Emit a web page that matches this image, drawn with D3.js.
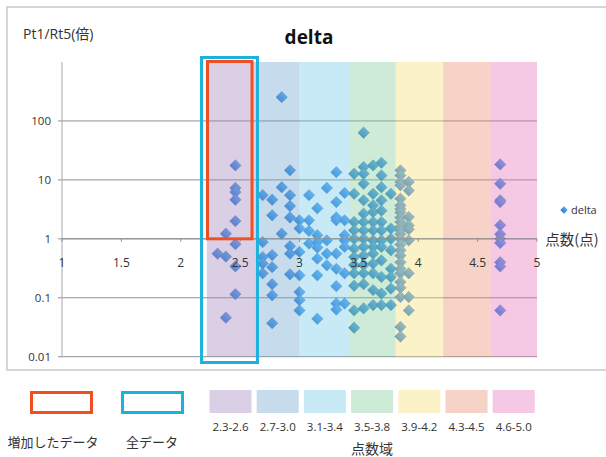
<!DOCTYPE html>
<html>
<head>
<meta charset="utf-8">
<script src="https://cdn.jsdelivr.net/npm/d3@7"></script>
<style>
  body { margin: 0; background: #fff; }
  text { font-family: "Open Sans", "Noto Sans CJK JP", sans-serif; fill: #333; }
  .jp { font-family: "Noto Sans CJK JP", sans-serif; }
</style>
</head>
<body>
<div id="chart"></div>
<script>
// score columns (x) and the delta values seen in each column (y, log scale)
var scoreCols = [2.31, 2.38, 2.46, 2.69, 2.77, 2.85, 2.92, 3.0, 3.08, 3.15, 3.23,
  3.31, 3.38, 3.46, 3.54, 3.62, 3.69, 3.77, 3.85, 3.92, 4.69];

var deltaCols = [
  [0.56],
  [1.22, 0.50, 0.046],
  [17.6, 7.3, 6.2, 4.6, 2.0, 0.81, 0.34, 0.115],
  [5.5, 0.88, 0.49, 0.38, 0.26],
  [4.6, 2.5, 0.53, 0.33, 0.17, 0.11, 0.037],
  [253, 7.5, 1.22],
  [14.5, 5.5, 3.6, 2.3, 0.75, 0.56, 0.25],
  [2.06, 1.5, 0.6, 0.24, 0.125, 0.091, 0.061],
  [5.5, 2.06, 1.36, 0.83],
  [3.3, 1.15, 0.88, 0.71, 0.46, 0.24, 0.044],
  [7.3, 0.94, 0.56, 0.355],
  [13.5, 4.2, 2.3, 2.06, 0.56, 0.31, 0.157, 0.08, 0.063],
  [6.0, 2.06, 1.15, 0.94, 0.73, 0.26, 0.08],
  [12.7, 5.8, 1.93, 1.39, 1.0, 0.68, 0.49, 0.36, 0.26, 0.16, 0.061, 0.031],
  [63, 16.5, 12.7, 8.6, 4.5, 2.67, 1.93, 1.39, 1.0, 0.73, 0.52, 0.36, 0.26, 0.17, 0.066],
  [17.6, 5.8, 3.7, 2.85, 1.93, 1.39, 0.94, 0.73, 0.56, 0.38, 0.26, 0.135, 0.075],
  [19.5, 11.9, 7.5, 4.5, 3.0, 1.93, 1.39, 0.94, 0.73, 0.43, 0.225, 0.118, 0.075],
  [5.8, 1.49, 1.0, 0.64, 0.31, 0.225, 0.143, 0.075],
  [14.5, 11.9, 9.2, 8.1, 4.8, 3.7, 3.2, 2.8, 2.3, 1.93, 1.6, 1.39, 1.2, 1.0, 0.8,
    0.64, 0.52, 0.4, 0.31, 0.26, 0.185, 0.148, 0.103, 0.032, 0.022],
  [9.2, 6.6, 2.34, 1.69, 1.45, 0.94, 0.26, 0.103, 0.061],
  [18.3, 8.6, 4.5, 4.2, 1.7, 1.2, 1.0, 0.85, 0.40, 0.34, 0.061]
];

// score ranges drawn as coloured bands
var bandEdges = [2.22, 2.65, 3.0, 3.42, 3.81, 4.21, 4.61, 5.0];
var bandLabels = ['2.3-2.6', '2.7-3.0', '3.1-3.4', '3.5-3.8', '3.9-4.2', '4.3-4.5', '4.6-5.0'];
var bandColors = ['#a287bb', '#70a7cf', '#75cae8', '#82cd98', '#f7de75', '#eb8e70', '#e675b9'];

var xTicks = [1, 1.5, 2, 2.5, 3, 3.5, 4, 4.5, 5];
var yTicks = [0.01, 0.1, 1, 10, 100];
var yTickLabels = ['0.01', '0.1', '1', '10', '100'];

var width = 606, height = 457;

var svg = d3.select('#chart').append('svg')
  .attr('width', width)
  .attr('height', height);

var defs = svg.append('defs');
var grad = defs.append('linearGradient')
  .attr('id', 'mk').attr('x1', 0).attr('y1', 0).attr('x2', 0).attr('y2', 1);
grad.append('stop').attr('offset', '0%').attr('stop-color', '#55a3f4');
grad.append('stop').attr('offset', '100%').attr('stop-color', '#2f7fd8');

// chart frame
svg.append('rect')
  .attr('x', 7).attr('y', 7).attr('width', 640).attr('height', 363)
  .attr('fill', 'none').attr('stroke', '#c9c9c9').attr('stroke-width', 1.5);

var x = d3.scaleLinear().domain([1, 5]).range([62, 537]);
var y = d3.scaleLog().domain([0.01, 1000]).range([356.7, 62]);

// gridlines
svg.append('g').selectAll('line').data(yTicks).enter().append('line')
  .attr('x1', 58).attr('x2', x(5))
  .attr('y1', function(d) { return y(d); })
  .attr('y2', function(d) { return y(d); })
  .attr('stroke', '#8f8f8f').attr('stroke-width', 1);

// y axis line
svg.append('line')
  .attr('x1', x(1)).attr('x2', x(1)).attr('y1', y(1000)).attr('y2', y(0.01))
  .attr('stroke', '#a8a8a8').attr('stroke-width', 1);

// points
var points = [];
scoreCols.forEach(function(s, i) {
  deltaCols[i].forEach(function(v) { points.push({ score: s, delta: v }); });
});

var diamond = d3.symbol().type(d3.symbolSquare).size(64);

svg.append('g').selectAll('path').data(points).enter().append('path')
  .attr('d', diamond)
  .attr('transform', function(d) {
    return 'translate(' + x(d.score) + ',' + y(d.delta) + ') rotate(45)';
  })
  .attr('fill', 'url(#mk)')
  .attr('stroke', '#3576c4').attr('stroke-width', 0.5);

// bands over the points
var bands = bandLabels.map(function(l, i) {
  return { label: l, x0: bandEdges[i], x1: bandEdges[i + 1], color: bandColors[i] };
});

svg.append('g').selectAll('rect').data(bands).enter().append('rect')
  .attr('x', function(d) { return x(d.x0); })
  .attr('width', function(d) { return x(d.x1) - x(d.x0); })
  .attr('y', y(1000))
  .attr('height', y(0.01) - y(1000))
  .attr('fill', function(d) { return d.color; })
  .attr('opacity', 0.4);

// x axis crossing at 1
svg.append('line')
  .attr('x1', x(1)).attr('x2', x(5)).attr('y1', y(1)).attr('y2', y(1))
  .attr('stroke', '#8f8f8f');

svg.append('g').selectAll('line').data(xTicks).enter().append('line')
  .attr('x1', function(d) { return x(d); })
  .attr('x2', function(d) { return x(d); })
  .attr('y1', y(1)).attr('y2', y(1) + 3)
  .attr('stroke', '#8f8f8f');

svg.append('g').selectAll('text').data(xTicks).enter().append('text')
  .attr('x', function(d) { return x(d); })
  .attr('y', y(1) + 28)
  .attr('text-anchor', 'middle')
  .style('font-size', '12px')
  .text(function(d) { return d; });

svg.append('g').selectAll('text').data(yTicks).enter().append('text')
  .attr('x', 51)
  .attr('y', function(d) { return y(d) + 4; })
  .attr('text-anchor', 'end')
  .style('font-size', '11.5px')
  .text(function(d, i) { return yTickLabels[i]; });

// highlight boxes
svg.append('rect')
  .attr('x', x(2.175)).attr('y', 57.5)
  .attr('width', x(2.646) - x(2.175)).attr('height', 305)
  .attr('fill', 'none').attr('stroke', '#1db2dd').attr('stroke-width', 3);

svg.append('rect')
  .attr('x', x(2.225)).attr('y', 61.5)
  .attr('width', x(2.6) - x(2.225)).attr('height', y(1) - 61.5)
  .attr('fill', 'none').attr('stroke', '#f04f24').attr('stroke-width', 3);

// titles
svg.append('text').attr('x', 309).attr('y', 44).attr('text-anchor', 'middle')
  .style('font-size', '19px').style('font-weight', 'bold').style('fill', '#111')
  .text('delta');

svg.append('text').attr('x', 23).attr('y', 39)
  .style('font-size', '14px')
  .text('Pt1/Rt5(倍)');

svg.append('text').attr('class', 'jp').attr('x', 572).attr('y', 245)
  .attr('text-anchor', 'middle')
  .style('font-size', '14.5px')
  .text('点数(点)');

// series legend
svg.append('path')
  .attr('d', d3.symbol().type(d3.symbolSquare).size(28))
  .attr('transform', 'translate(564,210) rotate(45)')
  .attr('fill', 'url(#mk)');
svg.append('text').attr('x', 571).attr('y', 214)
  .style('font-size', '11px')
  .text('delta');

// bottom legend
svg.append('rect').attr('x', 31.5).attr('y', 392.5).attr('width', 60).attr('height', 20)
  .attr('fill', 'none').attr('stroke', '#f04f24').attr('stroke-width', 3);
svg.append('rect').attr('x', 122.5).attr('y', 392.5).attr('width', 60).attr('height', 20)
  .attr('fill', 'none').attr('stroke', '#1db2dd').attr('stroke-width', 3);

svg.append('text').attr('class', 'jp').attr('x', 53).attr('y', 447)
  .attr('text-anchor', 'middle').style('font-size', '13px')
  .text('増加したデータ');
svg.append('text').attr('class', 'jp').attr('x', 152).attr('y', 447)
  .attr('text-anchor', 'middle').style('font-size', '13px')
  .text('全データ');

var sw = svg.append('g').selectAll('g').data(bands).enter().append('g')
  .attr('transform', function(d, i) { return 'translate(' + (209.5 + i * 47.2) + ',390)'; });

sw.append('rect').attr('width', 42).attr('height', 23)
  .attr('fill', function(d) { return d.color; })
  .attr('opacity', 0.4);

sw.append('text').attr('x', 21).attr('y', 41).attr('text-anchor', 'middle')
  .style('font-size', '11.5px')
  .text(function(d) { return d.label; });

svg.append('text').attr('class', 'jp').attr('x', 372).attr('y', 454)
  .attr('text-anchor', 'middle').style('font-size', '14px')
  .text('点数域');
</script>
</body>
</html>
